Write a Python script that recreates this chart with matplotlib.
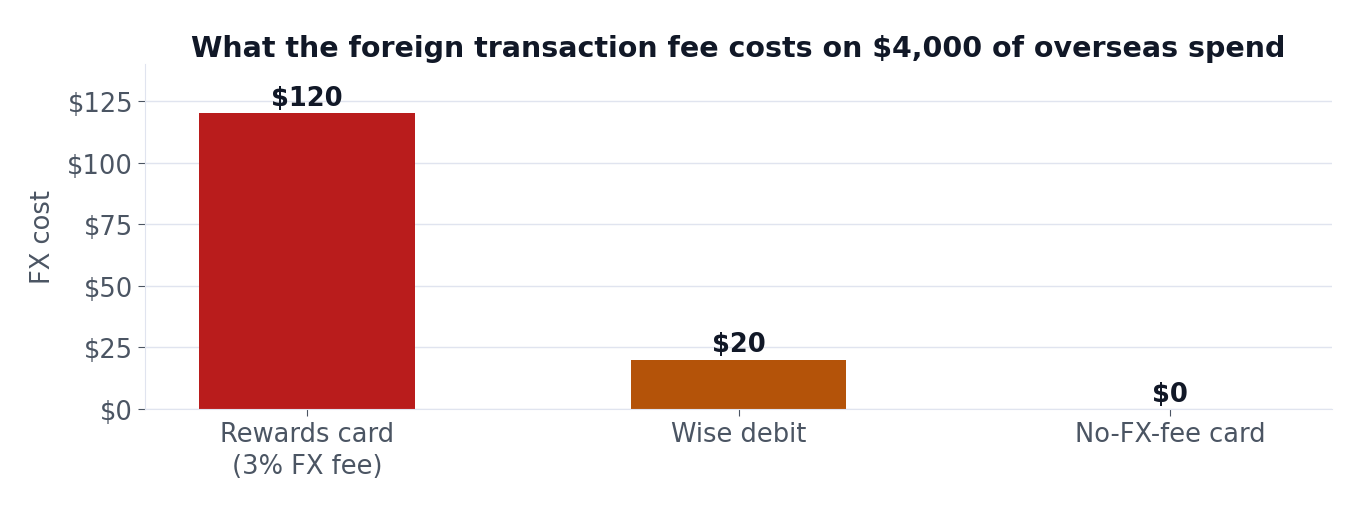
import matplotlib
matplotlib.use("Agg")
import matplotlib.pyplot as plt

categories = ["Rewards card\n(3% FX fee)", "Wise debit", "No-FX-fee card"]
values = [120, 20, 0]
colors = ["#b91c1c", "#b45309", "#15803d"]
yticks = [0, 25, 50, 75, 100, 125]

fig = plt.figure(figsize=(13.6, 5.1), dpi=100)
ax = fig.add_axes([145/1360, 1-410/510, 1187/1360, 345/510])
x = range(len(categories))
ax.bar(x, values, width=0.5, color=colors, zorder=2)
for xi, v in zip(x, values):
    ax.text(xi, v + 1.0, f"${v}", ha="center", va="bottom", fontsize=18.5,
            fontweight="bold", color="#111827")
ax.set_xlim(-0.375, 2.375)
ax.set_ylim(0, 140)
ax.set_yticks(yticks)
ax.set_yticklabels([f"${t}" for t in yticks])
ax.set_xticks(list(x))
ax.set_xticklabels(categories, linespacing=1.3)
ax.tick_params(axis="both", labelsize=18.5, labelcolor="#4b5563", color="#4b5563", length=5)
ax.grid(axis="y", color="#e0e4ef", linewidth=1, zorder=0)
for s in ["top", "right"]:
    ax.spines[s].set_visible(False)
for s in ["left", "bottom"]:
    ax.spines[s].set_color("#e0e4ef")
ax.set_ylabel("FX cost", fontsize=18.5, color="#4b5563", labelpad=8)
ax.set_title("What the foreign transaction fee costs on $4,000 of overseas spend",
             fontsize=20.5, fontweight="bold", color="#111827", pad=6, x=0.5)
fig.savefig("out.png", dpi=100)
